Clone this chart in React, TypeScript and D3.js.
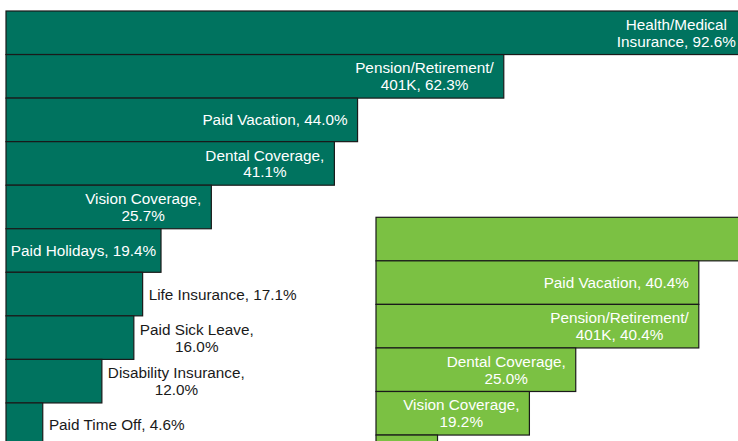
import React from "react";
import { scaleLinear, scaleBand } from "d3";

// left panel (dark green)
const leftCategories = [
  "Health/Medical Insurance",
  "Pension/Retirement/401K",
  "Paid Vacation",
  "Dental Coverage",
  "Vision Coverage",
  "Paid Holidays",
  "Life Insurance",
  "Paid Sick Leave",
  "Disability Insurance",
  "Paid Time Off",
];
const leftValues = [92.6, 62.3, 44.0, 41.1, 25.7, 19.4, 17.1, 16.0, 12.0, 4.6];

// right panel (light green), partly cut off by the frame
const rightCategories = [
  "Health/Medical Insurance",
  "Paid Vacation",
  "Pension/Retirement/401K",
  "Dental Coverage",
  "Vision Coverage",
  "Paid Holidays",
];
const rightValues = [75.0, 40.4, 40.4, 25.0, 19.2, 7.7];

const W = 738;
const H = 441;
const FONT = "15.3px 'Liberation Sans', Arial, sans-serif";
const LINE_H = 16.8;
const WRAP = 155;
const INSIDE_MIN = 19;

let ctx: CanvasRenderingContext2D | null = null;
const measure = (s: string) => {
  if (!ctx) {
    ctx = document.createElement("canvas").getContext("2d");
    if (ctx) ctx.font = FONT;
  }
  return ctx ? ctx.measureText(s).width : s.length * 7.5;
};

// greedy wrap, breaking after spaces and slashes
const wrap = (text: string) => {
  const tokens = text.match(/[^ /]+[ /]?/g) || [text];
  const lines: string[] = [];
  let cur = "";
  tokens.forEach((t) => {
    const next = cur + t;
    if (cur && measure(next.trimEnd()) > WRAP) {
      lines.push(cur.trimEnd());
      cur = t;
    } else cur = next;
  });
  if (cur) lines.push(cur.trimEnd());
  return lines;
};

const BarPanel = ({ categories, values, x0, y0, fill }) => {
  const step = 43.55;
  const x = scaleLinear().domain([0, 1]).range([x0, x0 + 7.99]);
  const y = scaleBand()
    .domain(categories)
    .range([y0, y0 + step * categories.length])
    .padding(0);

  return (
    <g>
      {categories.map((c, i) => {
        const v = values[i];
        const end = x(v);
        const top = y(c)!;
        const bw = y.bandwidth();
        const lines = wrap(`${c}, ${v.toFixed(1)}%`);
        const tw = Math.max(...lines.map(measure));
        const inside = v >= INSIDE_MIN;
        let cx: number;
        if (inside) {
          cx = end - 10 - tw / 2;
          if (cx - tw / 2 < x0 + 4) cx = (x0 + end) / 2;
        } else {
          cx = end + 6 + tw / 2;
        }
        const cy = top + bw / 2;
        const firstY = cy - ((lines.length - 1) * LINE_H) / 2;
        // labels lying outside the frame are not drawn
        const visible = cx + tw / 2 <= W && firstY + (lines.length - 1) * LINE_H + 6 <= H;
        return (
          <g key={c}>
            <rect
              x={x0}
              y={top}
              width={end - x0}
              height={bw}
              fill={fill}
              stroke="#1a1a1a"
              strokeWidth={1.2}
            />
            {visible && (
              <text
                textAnchor="middle"
                fill={inside ? "#ffffff" : "#1a1a1a"}
                style={{ font: FONT }}
              >
                {lines.map((l, k) => (
                  <tspan key={k} x={cx} y={firstY + k * LINE_H} dy="0.36em">
                    {l}
                  </tspan>
                ))}
              </text>
            )}
          </g>
        );
      })}
    </g>
  );
};

export default function App() {
  return (
    <svg
      width={W}
      height={H}
      style={{ position: "fixed", left: 0, top: 0, background: "#fff" }}
    >
      <BarPanel
        categories={leftCategories}
        values={leftValues}
        x0={6}
        y0={11}
        fill="#00735f"
      />
      <BarPanel
        categories={rightCategories}
        values={rightValues}
        x0={376}
        y0={217.3}
        fill="#7bc143"
      />
    </svg>
  );
}
